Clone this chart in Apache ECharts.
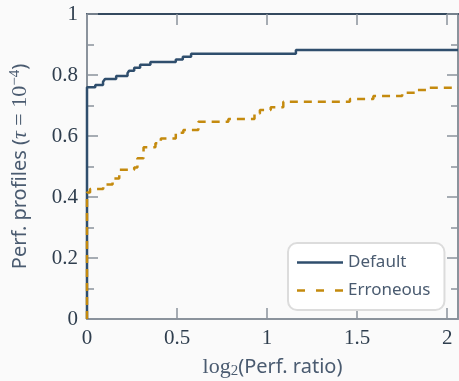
<!DOCTYPE html>
<html>
<head>
<meta charset="UTF-8">
<title>perf profiles</title>
<script src="https://cdn.jsdelivr.net/npm/echarts@6/dist/echarts.min.js"></script>
<style>
    html, body { margin: 0; padding: 0; background: #fafafa; }
    #chart { width: 459px; height: 381px; }
</style>
</head>
<body>
<div id="chart"></div>
<script type="text/javascript">
    // step points: value after each jump
    var defaultX = [0, 0, 0.046, 0.089, 0.10, 0.162, 0.225, 0.234, 0.262, 0.295, 0.352, 0.493, 0.532, 0.578, 1.16, 2.06];
    var defaultY = [0, 0.760, 0.767, 0.778, 0.787, 0.797, 0.806, 0.814, 0.824, 0.834, 0.843, 0.851, 0.860, 0.870, 0.882, 0.882];
    var erroneousX = [0, 0, 0.017, 0.09, 0.142, 0.179, 0.262, 0.28, 0.314, 0.38, 0.41, 0.493, 0.535, 0.618, 0.785, 0.93, 0.96, 1.02, 1.09, 1.46, 1.59, 1.75, 1.82, 1.89, 2.06];
    var erroneousY = [0, 0.415, 0.426, 0.441, 0.461, 0.489, 0.497, 0.527, 0.563, 0.576, 0.592, 0.611, 0.620, 0.647, 0.656, 0.674, 0.685, 0.694, 0.712, 0.721, 0.731, 0.742, 0.751, 0.758, 0.758];
    var seriesNames = ['Default', 'Erroneous'];
    var xTicks = [0, 0.5, 1, 1.5, 2];

    function pairs(xs, ys) {
        var out = [];
        for (var i = 0; i < xs.length; i++) out.push([xs[i], ys[i]]);
        return out;
    }

    var serif = 'Liberation Serif';
    var sans = 'Noto Sans';
    var textCol = '#4a5b70';
    var tickCol = '#8b939c';

    // legend keys drawn as plain paths (solid bar / three dashes)
    var solidIcon = 'path://M0,0H46V2.5H0Z';
    var dashIcon = 'path://M0,0H8V2.5H0ZM19,0H27V2.5H19ZM38,0H46V2.5H38Z';

    var myChart = echarts.init(document.getElementById('chart'));

    var option = {
        backgroundColor: '#fafafa',
        animation: false,
        grid: { left: 87, right: 1, top: 14, bottom: 62, outerBoundsMode: 'none' },
        legend: {
            data: [
                { name: seriesNames[0], icon: solidIcon },
                { name: seriesNames[1], icon: dashIcon }
            ],
            orient: 'vertical',
            left: 288,
            top: 243,
            itemWidth: 46,
            itemHeight: 3,
            itemGap: 11,
            padding: [11, 14, 11, 9],
            backgroundColor: '#ffffff',
            borderColor: '#dcdcdc',
            borderWidth: 2,
            borderRadius: 9,
            textStyle: { fontFamily: sans, fontSize: 17, color: textCol }
        },
        xAxis: [{
            type: 'value', min: 0, max: 2.06, interval: 0.5,
            position: 'bottom',
            splitLine: { show: false },
            axisLine: { lineStyle: { color: tickCol, width: 2 } },
            axisTick: { show: true, inside: true, length: 11, lineStyle: { color: tickCol, width: 1.5 },
                        customValues: xTicks },
            axisLabel: { fontFamily: serif, fontSize: 21, color: '#2f3e4e', margin: 9,
                         customValues: xTicks },
            name: '{m|log}{s|2}{t|(Perf. ratio)}',
            nameLocation: 'middle',
            nameGap: 36,
            nameTextStyle: {
                rich: {
                    m: { fontFamily: serif, fontSize: 22, color: textCol },
                    s: { fontFamily: serif, fontSize: 15, color: textCol, verticalAlign: 'bottom', padding: [9, 0, 0, 0] },
                    t: { fontFamily: sans, fontSize: 20, color: textCol }
                }
            }
        }, {
            type: 'value', min: 0, max: 2.06, interval: 0.5,
            position: 'top',
            splitLine: { show: false },
            axisLine: { onZero: false, lineStyle: { color: '#34495e', width: 2 } },
            axisTick: { show: true, inside: true, length: 11, lineStyle: { color: tickCol, width: 1.5 },
                        customValues: xTicks },
            axisLabel: { show: false }
        }],
        yAxis: [{
            type: 'value', min: 0, max: 1, interval: 0.2,
            position: 'left',
            splitLine: { show: false },
            axisLine: { lineStyle: { color: tickCol, width: 2 } },
            axisTick: { show: true, inside: true, length: 11, lineStyle: { color: tickCol, width: 1.5 } },
            minorTick: { show: true, splitNumber: 2, length: 7, lineStyle: { color: tickCol, width: 1.5 } },
            axisLabel: { fontFamily: serif, fontSize: 21, color: '#2f3e4e', margin: 9 },
            name: '{t|Perf. profiles (}{m|τ}{e| = 10}{p|−4}{t|)}',
            nameLocation: 'middle',
            nameGap: 55,
            nameTextStyle: {
                rich: {
                    t: { fontFamily: sans, fontSize: 20, color: textCol },
                    m: { fontFamily: serif, fontSize: 22, fontStyle: 'italic', color: textCol },
                    e: { fontFamily: serif, fontSize: 22, color: textCol },
                    p: { fontFamily: serif, fontSize: 15, color: textCol, verticalAlign: 'top', padding: [0, 0, 9, 0] }
                }
            }
        }, {
            type: 'value', min: 0, max: 1, interval: 0.2,
            position: 'right',
            splitLine: { show: false },
            axisLine: { onZero: false, lineStyle: { color: tickCol, width: 2 } },
            axisTick: { show: true, inside: true, length: 11, lineStyle: { color: tickCol, width: 1.5 } },
            minorTick: { show: true, splitNumber: 2, length: 7, lineStyle: { color: tickCol, width: 1.5 } },
            axisLabel: { show: false }
        }],
        series: [
            {
                name: seriesNames[0],
                type: 'line',
                step: 'end',
                symbol: 'none',
                clip: false,
                color: '#2f4e6d',
                lineStyle: { color: '#2f4e6d', width: 2.5 },
                data: pairs(defaultX, defaultY)
            },
            {
                name: seriesNames[1],
                type: 'line',
                step: 'end',
                symbol: 'none',
                clip: false,
                color: '#c48a0e',
                lineStyle: { color: '#c48a0e', width: 2.5, type: [8, 6] },
                data: pairs(erroneousX, erroneousY)
            }
        ]
    };
    myChart.setOption(option);
</script>
</body>
</html>
